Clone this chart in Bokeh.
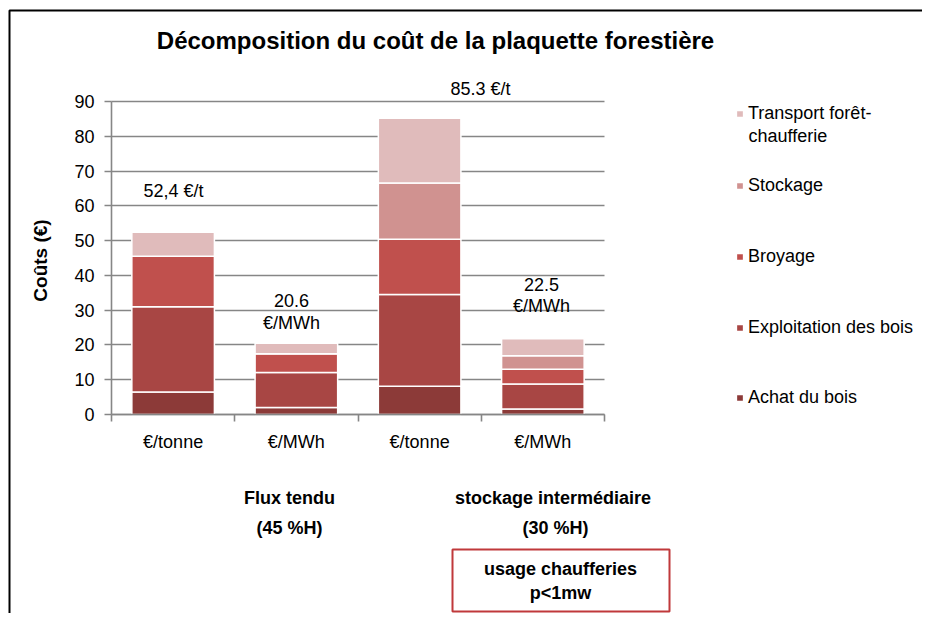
from math import pi
from bokeh.plotting import figure
from bokeh.models import (ColumnDataSource, Range1d, FixedTicker, Label, Legend,
                          LegendItem, BoxAnnotation)
from bokeh.embed import file_html
from bokeh.resources import INLINE

# ---------------- data ----------------
categories = ["€/tonne", "€/MWh", "€/tonne", "€/MWh"]
series = ["Achat du bois", "Exploitation des bois", "Broyage", "Stockage",
          "Transport forêt-chaufferie"]
achat = [6.5, 2.0, 8.1, 1.6]
exploitation = [24.5, 10.1, 26.4, 7.2]
broyage = [14.5, 5.4, 15.9, 4.2]
stockage = [0.0, 0.0, 16.2, 3.9]
transport = [6.9, 3.0, 18.6, 4.9]
totals_text = [["52,4 €/t"], ["20.6", "€/MWh"], ["85.3 €/t"], ["22.5", "€/MWh"]]
y_ticks = [0, 10, 20, 30, 40, 50, 60, 70, 80, 90]
groups = [["Flux tendu", "(45 %H)"], ["stockage  intermédiaire", "(30 %H)"]]
box_text = ["usage chaufferies", "p<1mw"]
title_text = "Décomposition du coût de la plaquette forestière"
y_label = "Coûts (€)"

# ---------------- style / layout ----------------
colors = ["#8c3a38", "#a84644", "#c0504d", "#d09290", "#e0bbbb"]
FONT = "Liberation Sans"
GRAY = "#868686"
FS = "18px"
W, H = 922, 613
X0_PX, X4_PX = 111, 604      # pixel position of x=0 and x=4
Y0_PX, Y90_PX = 414, 101     # pixel position of y=0 and y=90 (from top)
n = len(categories)
ppx = (X4_PX - X0_PX) / n
ppy = (Y0_PX - Y90_PX) / 90.0
x_range = Range1d(-X0_PX / ppx, (W - X0_PX) / ppx)
y_range = Range1d(-(H - Y0_PX) / ppy, Y0_PX / ppy)

keys = ["achat", "exploitation", "broyage", "stockage", "transport"]
xs = [i + 0.5 for i in range(n)]
src = ColumnDataSource(dict(x=xs, achat=achat, exploitation=exploitation,
                            broyage=broyage, stockage=stockage, transport=transport))

p = figure(width=W, height=H, output_backend="svg", toolbar_location=None,
           x_range=x_range, y_range=y_range,
           min_border_left=0, min_border_right=0, min_border_top=0,
           min_border_bottom=0)
p.outline_line_color = None
p.background_fill_color = "white"
p.border_fill_color = "white"

# grid
p.xgrid.visible = False
try:
    p.ygrid.cross_bounds = (0, n)
    p.ygrid.grid_line_color = GRAY
    p.ygrid.grid_line_width = 1.6
except AttributeError:
    p.ygrid.visible = False
    p.segment(x0=0, x1=n, y0=y_ticks, y1=y_ticks, line_color=GRAY,
              line_width=1.6, level="underlay")

renderers = p.vbar_stack(keys, x="x", width=0.67, source=src, color=colors,
                         line_color="white", line_width=1.5)

# axes drawn at fixed locations inside the canvas
p.yaxis.fixed_location = 0
p.yaxis.bounds = (0, 90)
p.yaxis.ticker = FixedTicker(ticks=y_ticks)
p.yaxis.axis_line_color = GRAY
p.yaxis.axis_line_width = 1.6
p.yaxis.major_tick_line_color = GRAY
p.yaxis.major_tick_line_width = 1.6
p.yaxis.major_tick_out = 7
p.yaxis.major_tick_in = 0
p.yaxis.minor_tick_line_color = None
p.yaxis.major_label_standoff = 10
p.yaxis.major_label_text_font = FONT
p.yaxis.major_label_text_font_size = FS
p.yaxis.major_label_text_color = "black"

p.xaxis.fixed_location = 0
p.xaxis.bounds = (0, n)
p.xaxis.ticker = FixedTicker(ticks=xs, minor_ticks=list(range(n + 1)))
p.xaxis.major_label_overrides = {x: c for x, c in zip(xs, categories)}
p.xaxis.axis_line_color = GRAY
p.xaxis.axis_line_width = 1.6
p.xaxis.major_tick_line_color = None
p.xaxis.major_tick_out = 0
p.xaxis.major_tick_in = 0
p.xaxis.minor_tick_line_color = GRAY
p.xaxis.minor_tick_line_width = 1.6
p.xaxis.minor_tick_out = 7
p.xaxis.minor_tick_in = 0
p.xaxis.major_label_standoff = 10
p.xaxis.major_label_text_font = FONT
p.xaxis.major_label_text_font_size = FS
p.xaxis.major_label_text_color = "black"


def lab(text, px, py, size=FS, bold=False, align="center", angle=0):
    """Label at canvas pixel (px, py) measured from the top-left corner."""
    p.add_layout(Label(x=px, y=H - py, x_units="screen", y_units="screen", text=text,
                       text_font=FONT, text_font_size=size,
                       text_font_style="bold" if bold else "normal",
                       text_align=align, text_baseline="middle", angle=angle,
                       text_color="black"))


# title and axis label
lab(title_text, 435, 40, size="24px", bold=True)
lab(y_label, 40, 260, size="19px", bold=True, angle=pi / 2)

# totals
tot_pos = [(173, [190]), (291, [300, 322]), (480, [88]), (541, [284, 305])]
for lines, (px, pys) in zip(totals_text, tot_pos):
    for t, py in zip(lines, pys):
        lab(t, px, py)

# group labels
grp_pos = [289, 555]
for lines, px in zip(groups, grp_pos):
    lab(lines[0], px, 497, bold=True)
    lab(lines[1], px, 527, bold=True)

# boxed note
p.add_layout(BoxAnnotation(left=452, right=669, top=H - 549, bottom=H - 611,
                           left_units="screen", right_units="screen",
                           top_units="screen", bottom_units="screen",
                           fill_alpha=0, line_alpha=1, line_color="#c0393b",
                           line_width=2))
lab(box_text[0], 560, 568, bold=True)
lab(box_text[1], 560, 592, bold=True)

# outer frame (left and top edges visible)
p.add_layout(BoxAnnotation(left=9, right=3000, top=H - 10, bottom=-3000,
                           left_units="screen", right_units="screen",
                           top_units="screen", bottom_units="screen",
                           fill_alpha=0, line_alpha=1, line_color="black",
                           line_width=2))

# legend (one Legend per item for exact placement)
leg_labels = ["Achat du bois", "Exploitation des bois", "Broyage", "Stockage",
              "Transport forêt-"]
leg_centers = [397, 327, 256, 185, 113]
for r, t, c in zip(renderers, leg_labels, leg_centers):
    lg = Legend(items=[LegendItem(label=t, renderers=[r])],
                location=(735, H - c - 11),
                padding=0, margin=0, border_line_color=None,
                background_fill_alpha=0, label_standoff=4, glyph_width=9,
                glyph_height=9, label_height=22, label_text_font=FONT,
                label_text_font_size=FS, label_text_color="black")
    p.add_layout(lg)
lab("chaufferie", 748, 135, align="left")

open("out.html", "w").write(file_html(p, INLINE))
